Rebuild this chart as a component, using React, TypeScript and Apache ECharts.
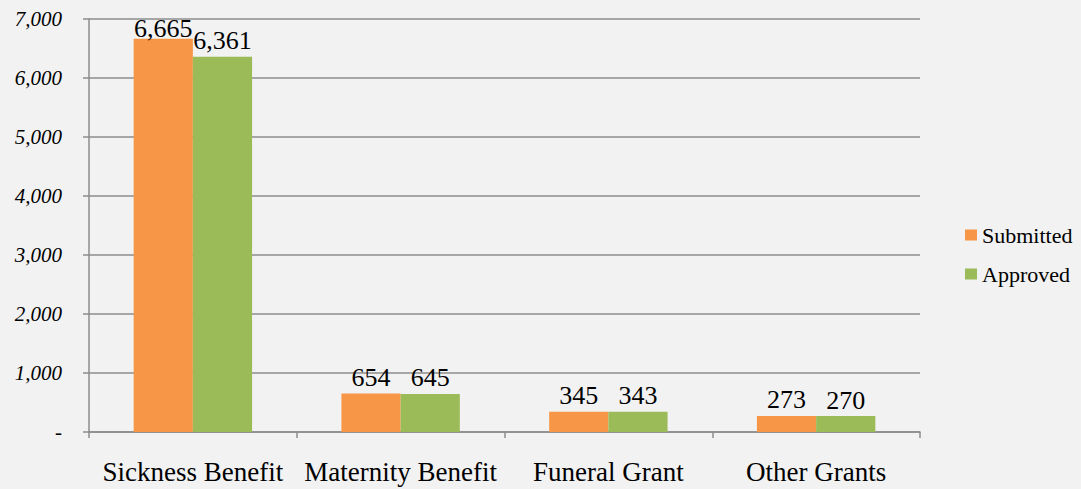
import React, { useEffect, useRef } from "react";
import * as echarts from "echarts";

const categories = ["Sickness Benefit", "Maternity Benefit", "Funeral Grant", "Other Grants"];
const submitted = [6665, 654, 345, 273];
const approved = [6361, 645, 343, 270];
const seriesNames = ["Submitted", "Approved"];

const FONT = "'Liberation Serif', serif";
const fmt = (v: number) => v.toLocaleString("en-US");

export default function App() {
  const ref = useRef<HTMLDivElement>(null);
  useEffect(() => {
    const chart = echarts.init(ref.current!, null, { renderer: "svg" });
    const label = {
      show: true,
      position: "top" as const,
      distance: 3,
      color: "#000",
      fontFamily: FONT,
      fontSize: 26,
      formatter: (p: any) => fmt(p.value),
    };
    // the tallest value's label sits lower (clamped at the plot top in the reference)
    const toItems = (arr: number[]) =>
      arr.map((v) => (v > 6500 ? { value: v, label: { distance: -3 } } : v));
    chart.setOption({
      animation: false,
      backgroundColor: "#f2f2f2",
      grid: { left: 89, right: 161, top: 19, bottom: 57, containLabel: false },
      legend: {
        orient: "vertical",
        left: 960,
        top: 219,
        itemWidth: 12,
        itemHeight: 11,
        itemGap: 17,
        icon: "rect",
        textStyle: { fontFamily: FONT, fontSize: 22, color: "#000" },
        data: seriesNames,
      },
      xAxis: {
        type: "category",
        data: categories,
        axisLine: { lineStyle: { color: "#8c8c8c", width: 1.5 } },
        axisTick: { show: true, length: 6, lineStyle: { color: "#8c8c8c", width: 1.5 } },
        axisLabel: { fontFamily: FONT, fontSize: 27, color: "#000", margin: 26, interval: 0 },
      },
      yAxis: {
        type: "value",
        min: 0,
        max: 7000,
        interval: 1000,
        axisLine: { show: true, lineStyle: { color: "#8c8c8c", width: 1.5 } },
        axisTick: { show: true, length: 6, lineStyle: { color: "#8c8c8c", width: 1.5 } },
        splitLine: { lineStyle: { color: "#8c8c8c", width: 1.5 } },
        axisLabel: {
          fontFamily: FONT,
          fontSize: 21,
          fontStyle: "italic",
          color: "#000",
          margin: 27,
          formatter: (v: number) => (v === 0 ? "-" : fmt(v)),
        },
      },
      series: [
        {
          name: seriesNames[0],
          type: "bar",
          data: toItems(submitted),
          itemStyle: { color: "#f79646" },
          barGap: "0%",
          barCategoryGap: "43%",
          label,
        },
        {
          name: seriesNames[1],
          type: "bar",
          data: toItems(approved),
          itemStyle: { color: "#9bbb59" },
          barGap: "0%",
          barCategoryGap: "43%",
          label,
        },
      ],
    });
    return () => chart.dispose();
  }, []);
  return <div ref={ref} style={{ width: 1081, height: 489, position: "absolute", left: 0, top: 0 }} />;
}
